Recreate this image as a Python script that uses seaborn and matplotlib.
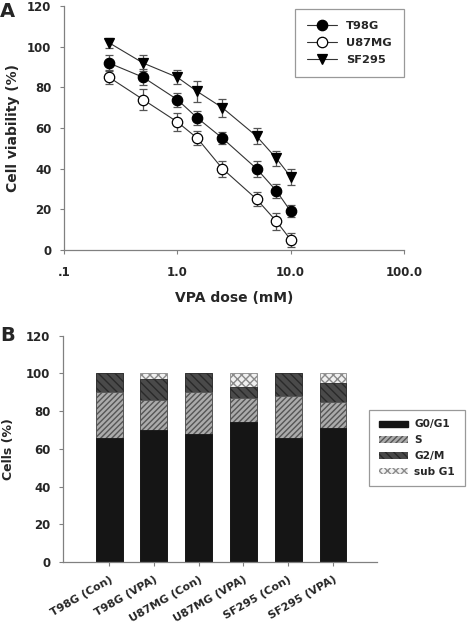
import numpy as np
import pandas as pd
import matplotlib
matplotlib.use("Agg")
import matplotlib.pyplot as plt
import seaborn as sns
from matplotlib.patches import Patch

# panel A: cell viability vs VPA dose
doses = [0.25, 0.5, 1.0, 1.5, 2.5, 5.0, 7.5, 10.0]
t98g = [92, 85, 74, 65, 55, 40, 29, 19]
t98g_err = [4, 4, 3.5, 3.5, 3, 4, 3.5, 3]
u87mg = [85, 74, 63, 55, 40, 25, 14, 5]
u87mg_err = [3.5, 5, 4.5, 3.5, 4, 3.5, 4, 3.5]
sf295 = [102, 92, 85, 78, 70, 56, 45, 36]
sf295_err = [2.5, 4, 3.5, 5, 4.5, 4, 3.5, 4]

# panel B: cell cycle distribution
groups = ['T98G (Con)', 'T98G (VPA)', 'U87MG (Con)', 'U87MG (VPA)',
          'SF295 (Con)', 'SF295 (VPA)']
g0g1 = [66, 70, 68, 74, 66, 71]
s_phase = [24, 16, 22, 13, 22, 14]
g2m = [10, 11, 10, 6, 12, 10]
subg1 = [0, 3, 0, 7, 0, 5]

sns.set_style("ticks")
plt.rcParams['font.family'] = ['DejaVu Sans']
plt.rcParams['font.weight'] = 'bold'
plt.rcParams['hatch.linewidth'] = 1.0
AX_GRAY = '#808080'
TICK_FS = 8.5

fig = plt.figure(figsize=(4.67, 6.23), dpi=100)

# ---------------- panel A ----------------
axA = fig.add_axes([0.137, 0.599, 0.728, 0.391])
series = [('T98G', t98g, t98g_err, 'o', 'black'),
          ('U87MG', u87mg, u87mg_err, 'o', 'white'),
          ('SF295', sf295, sf295_err, 'v', 'black')]
for name, vals, errs, mk, fc in series:
    df = pd.DataFrame({'dose': doses, 'viab': vals})
    axA.errorbar(doses, vals, yerr=errs, fmt='none', ecolor='#555555',
                 elinewidth=0.9, capsize=3, capthick=0.9, zorder=2)
    sns.lineplot(data=df, x='dose', y='viab', ax=axA, color='#333333',
                 linewidth=0.8, marker=mk, markersize=7.5,
                 markerfacecolor=fc, markeredgecolor='black',
                 markeredgewidth=0.9, zorder=3, label=name)
axA.set_xscale('log')
axA.set_xlim(0.1, 100)
axA.set_ylim(0, 120)
axA.set_xticks([0.1, 1, 10, 100])
axA.set_xticklabels(['.1', '1.0', '10.0', '100.0'])
axA.minorticks_off()
axA.set_yticks(range(0, 121, 20))
axA.set_xlabel('VPA dose (mM)', fontsize=10, fontweight='bold', labelpad=8)
axA.set_ylabel('Cell viability (%)', fontsize=10, fontweight='bold', labelpad=5)
axA.tick_params(axis='both', labelsize=TICK_FS, length=3, color=AX_GRAY,
                width=0.8)
axA.tick_params(axis='x', pad=9)
axA.tick_params(axis='y', pad=6)
for sp in ['left', 'bottom']:
    axA.spines[sp].set_color(AX_GRAY)
    axA.spines[sp].set_linewidth(0.9)
sns.despine(ax=axA)
legA = axA.legend(loc='upper right', bbox_to_anchor=(1.0, 0.99),
                  frameon=True, fancybox=False, edgecolor=AX_GRAY,
                  fontsize=8.2, handlelength=2.6, borderpad=1.1,
                  labelspacing=0.6, borderaxespad=0)
legA.get_frame().set_linewidth(0.9)
for t in legA.get_texts():
    t.set_fontweight('bold')

fig.text(0.0, 0.997, 'A', fontsize=14, fontweight='bold', va='top')

# ---------------- panel B ----------------
axB = fig.add_axes([0.135, 0.098, 0.672, 0.363])
bdf = pd.DataFrame({'group': groups, 'G0/G1': g0g1, 'S': s_phase,
                    'G2/M': g2m, 'sub G1': subg1})
bdf['c1'] = bdf['G0/G1']
bdf['c2'] = bdf['c1'] + bdf['S']
bdf['c3'] = bdf['c2'] + bdf['G2/M']
bdf['c4'] = bdf['c3'] + bdf['sub G1']

styles = [('c4', '#f0f0f0', '#8a8a8a', 'xxxx'),
          ('c3', '#4a4a4a', '#2a2a2a', '\\\\\\\\'),
          ('c2', '#ababab', '#555555', '//////'),
          ('c1', '#151515', '#151515', None)]
for col, fc, hc, hatch in styles:
    sns.barplot(data=bdf, x='group', y=col, ax=axB, color=fc, width=0.6,
                saturation=1, edgecolor=hc, linewidth=0.6, hatch=hatch)

axB.set_xlim(-1.03, 5.98)
axB.set_ylim(0, 120)
axB.set_yticks(range(0, 121, 20))
axB.set_xlabel('')
axB.set_ylabel('Cells (%)', fontsize=9, fontweight='bold', labelpad=8)
axB.tick_params(axis='both', labelsize=TICK_FS, length=3, color=AX_GRAY,
                width=0.8)
axB.tick_params(axis='y', pad=6)
axB.tick_params(axis='x', pad=6)
axB.set_xticks(range(len(groups)))
axB.set_xticklabels(groups, rotation=30, ha='right', rotation_mode='anchor',
                    fontweight='bold', fontsize=7.9)
for sp in ['left', 'bottom']:
    axB.spines[sp].set_color(AX_GRAY)
    axB.spines[sp].set_linewidth(0.9)
sns.despine(ax=axB)

leg_handles = [Patch(facecolor='#151515', edgecolor='#151515', label='G0/G1'),
               Patch(facecolor='#ababab', edgecolor='#555555', hatch='//////',
                     label='S', linewidth=0),
               Patch(facecolor='#4a4a4a', edgecolor='#2a2a2a',
                     hatch='\\\\\\\\', label='G2/M', linewidth=0),
               Patch(facecolor='#f0f0f0', edgecolor='#8a8a8a', hatch='xxxx',
                     label='sub G1', linewidth=0)]
legB = fig.legend(handles=leg_handles, loc='upper left',
                  bbox_to_anchor=(369 / 467, 1 - 410 / 623),
                  frameon=True, fancybox=False, edgecolor=AX_GRAY,
                  fontsize=7.6, handlelength=2.8, handleheight=0.55,
                  handletextpad=0.6, borderpad=0.9, labelspacing=0.55,
                  borderaxespad=0)
legB.get_frame().set_linewidth(0.9)

fig.text(0.0, 1 - 326 / 623, 'B', fontsize=14, fontweight='bold', va='top')

fig.savefig('out.png', dpi=100)
